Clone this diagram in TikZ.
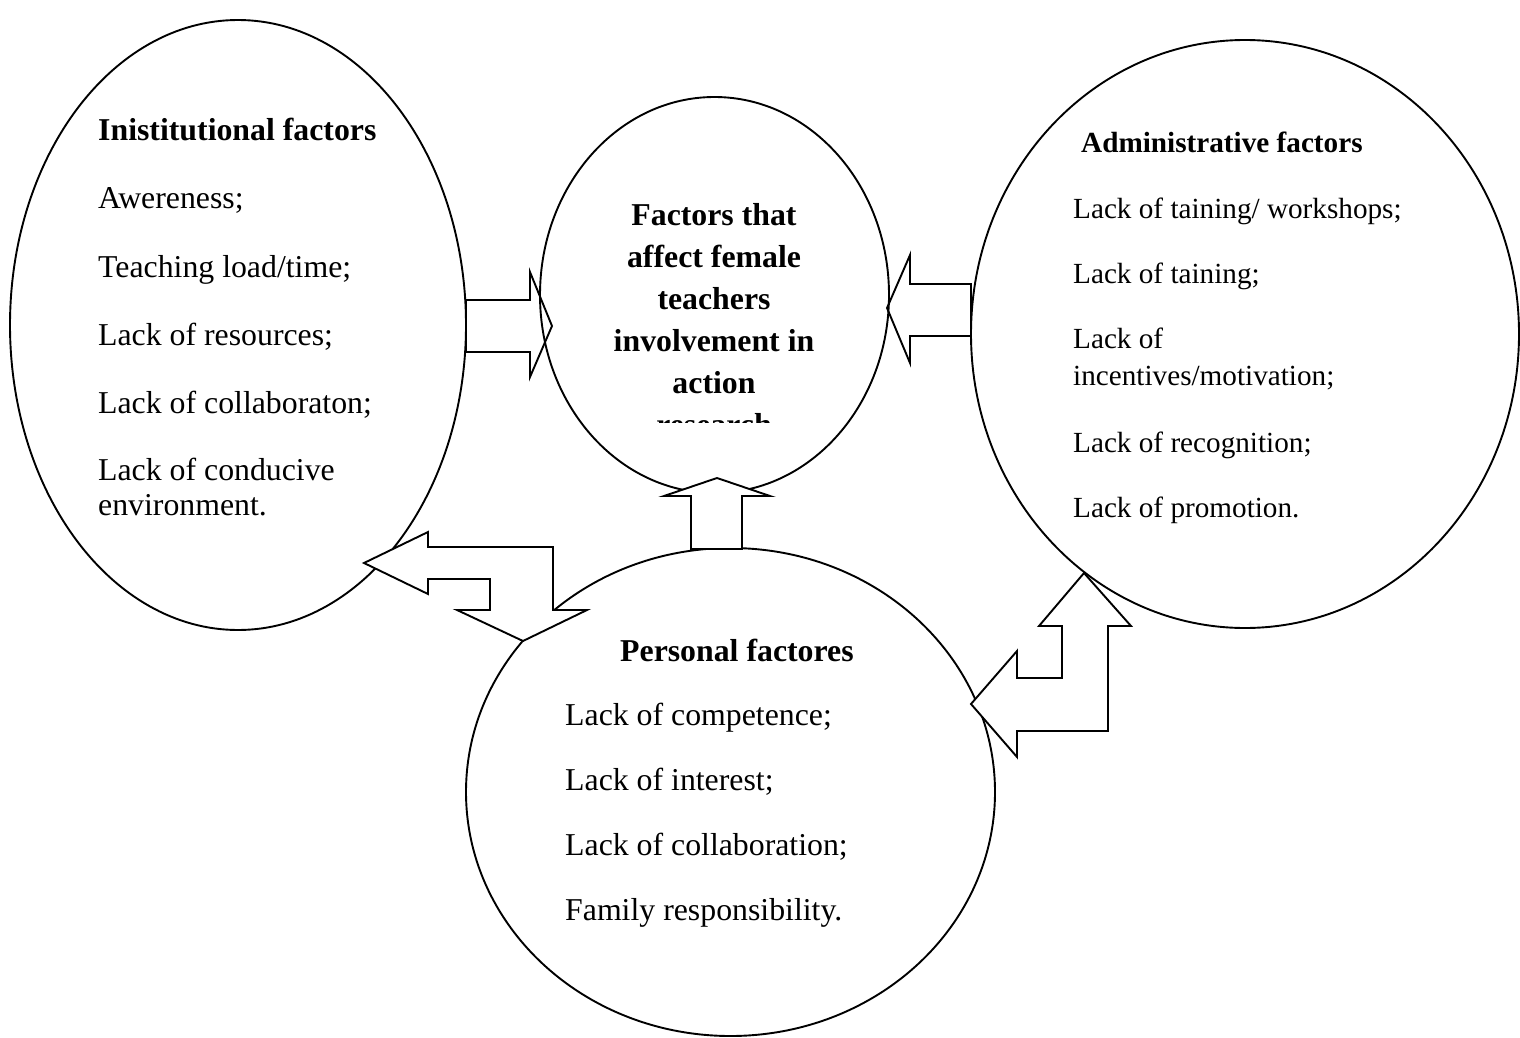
\documentclass[tikz,border=0pt]{standalone}
\usepackage{fontspec}
\setmainfont{Liberation Serif}
\usetikzlibrary{shapes.geometric}

\begin{document}
\begin{tikzpicture}[x=1pt,y=-1pt,
    oval/.style={draw,ellipse,line width=1.9pt,inner sep=0pt},
    blockarrow/.style={draw,fill=white,line width=1.9pt,line join=miter},
    entry/.style={inner sep=0pt,anchor=base west,font=\fontsize{31.8}{35}\selectfont},
    adminentry/.style={entry,font=\fontsize{29.2}{33}\selectfont},
    heading/.style={entry,font=\fontsize{31.8}{35}\selectfont\bfseries}]
  \useasboundingbox (0,0) rectangle (1520,1038);

  % the three groups of factors
  \node[oval,minimum width=456pt,minimum height=610pt] (inst) at (238,325) {};
  \node[oval,minimum width=548pt,minimum height=588pt] (admin) at (1245,334) {};
  \node[oval,minimum width=529pt,minimum height=488pt] (pers) at (730.5,792) {};

  % arrows into the centre
  \draw[blockarrow] (466,300) -- (530,300) -- (530,272) -- (552,326)
    -- (530,377) -- (530,352) -- (466,352) -- cycle;
  \draw[blockarrow] (971,284) -- (910,284) -- (910,255) -- (887,308)
    -- (910,363) -- (910,336) -- (971,336) -- cycle;
  \node[oval,minimum width=349pt,minimum height=396pt] (centre) at (714.5,295) {};
  \draw[blockarrow] (691,549) -- (691,496) -- (664,496) -- (717,478)
    -- (770,496) -- (742,496) -- (742,549) -- cycle;

  % bent double arrows
  \draw[blockarrow] (364,563) -- (428,532) -- (428,547) -- (553,547) -- (553,610)
    -- (587,610) -- (523,641) -- (457,610) -- (490,610) -- (490,579)
    -- (428,579) -- (428,594) -- cycle;
  \draw[blockarrow] (1084,573) -- (1131,626) -- (1108,626) -- (1108,731) -- (1017,731)
    -- (1017,757) -- (971,704) -- (1017,651) -- (1017,678) -- (1062,678)
    -- (1062,626) -- (1039,626) -- cycle;

  % texts
  \node[heading] (insthead) at (98,141) {Inistitutional factors};
  \foreach \y/\txt in {208/Awereness;,277/{Teaching load/time;},345/Lack of resources;,
      413/Lack of collaboraton;,480/Lack of conducive,515/environment.}
    \node[entry] at (98,\y) {\txt};

  \node[heading,font=\fontsize{29.2}{33}\selectfont\bfseries] (adminhead) at (1081,153) {Administrative factors};
  \foreach \y/\txt in {218/{Lack of taining/ workshops;},283/Lack of taining;,348/Lack of,
      385/{incentives/motivation;},452/Lack of recognition;,517/Lack of promotion.}
    \node[adminentry] at (1073,\y) {\txt};

  \node[heading] (pershead) at (620,661) {Personal factores};
  \foreach \y/\txt in {725/Lack of competence;,790/Lack of interest;,
      855/Lack of collaboration;,920/Family responsibility.}
    \node[entry] at (565,\y) {\txt};

  \begin{scope}
    \clip (540,97) rectangle (889,422);
    \foreach \txt [count=\i] in {Factors that,affect female,teachers,involvement in,action,research}
      \node[heading,anchor=base] at (714,183+42*\i) {\txt};
  \end{scope}
\end{tikzpicture}
\end{document}
